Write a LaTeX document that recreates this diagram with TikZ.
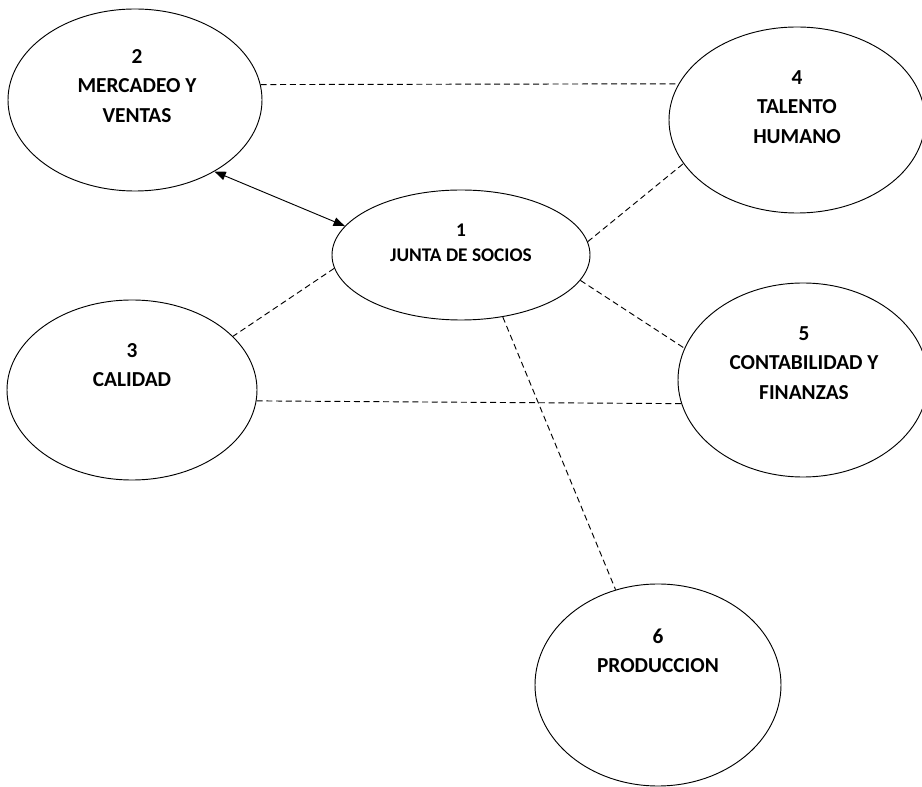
\documentclass[tikz,border=0pt]{standalone}
\usepackage{fontspec}
\setmainfont{Carlito}
\usetikzlibrary{arrows.meta, shapes.geometric}

\begin{document}
\begin{tikzpicture}[
    x=0.75pt, y=-0.75pt,
    area/.style 2 args={ellipse, draw, line width=0.7pt, inner sep=0pt,
      minimum width=#1, minimum height=#2},
    lbl/.style={font=\bfseries\fontsize{16}{22}\selectfont, align=center},
    link/.style={line width=0.7pt, dash pattern=on 4.5pt off 2.8pt},
    >={Triangle[length=8.5pt, width=6.5pt]}
  ]
  \useasboundingbox (0,0) rectangle (922,787);

  % ── Areas (ellipses, sizes in pt) ──────────────────────────────────────
  \node[area={193.5pt}{97.5pt}]  (e1) at (461, 255) {};
  \node[area={190.5pt}{136.5pt}] (e2) at (135, 100) {};
  \node[area={187.5pt}{135pt}]   (e3) at (132, 390) {};
  \node[area={192pt}{139.5pt}]   (e4) at (797, 120) {};
  \node[area={187.5pt}{145.5pt}] (e5) at (803, 380) {};
  \node[area={184.5pt}{151.5pt}] (e6) at (658, 685) {};

  % ── Labels (set a little above each centre) ───────────────────────────
  \node[lbl, font=\bfseries\fontsize{14.5}{19}\selectfont] (t1) at (461, 243) {1\\JUNTA DE SOCIOS};
  \node[lbl] (t2) at (137, 86)  {2\\MERCADEO Y\\VENTAS};
  \node[lbl] (t3) at (132, 365) {3\\CALIDAD};
  \node[lbl] (t4) at (797, 107) {4\\TALENTO\\HUMANO};
  \node[lbl] (t5) at (804, 363) {5\\CONTABILIDAD Y\\FINANZAS};
  \node[lbl] (t6) at (658, 651) {6\\PRODUCCION};

  % ── Connectors ─────────────────────────────────────────────────────────
  \draw[line width=0.7pt, <->] (e2.-42) -- (e1.166);
  \draw[link] (e2.7)     -- (e4.163);
  \draw[link] (e1.6.5)   -- (e4.201.5);
  \draw[link] (e1.-12.5) -- (e5.165);
  \draw[link] (e1.186.4) -- (e3.28.6);
  \draw[link] (e3.-5.5)  -- (e5.191);
  % e1 down to e6
  \draw[link] (e1.-56)   -- (e6.114);

\end{tikzpicture}
\end{document}
